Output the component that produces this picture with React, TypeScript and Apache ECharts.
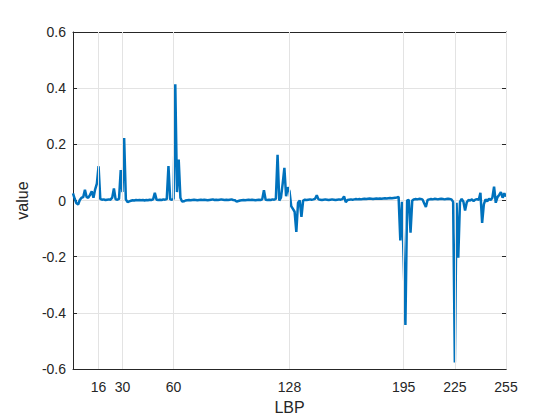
import React, { useEffect, useRef } from "react";
import * as echarts from "echarts";

const xTicks = [16, 30, 60, 128, 195, 225, 255];
const xStart = 1;
const values = [
  0.025, 0.006, -0.010, -0.014, 0.002, 0.010, 0.012, 0.038, 0.012, 0.010,
  0.020, 0.033, 0.010, 0.040, 0.060, 0.122, 0.006, 0.003, 0.004, 0.002,
  0.003, 0.004, 0.003, 0.010, 0.043, 0.004, 0.003, 0.006, 0.108, 0.030,
  0.222, 0.004, -0.006, -0.003, -0.001, 0.001, 0.000, 0.002, 0.001, 0.002,
  0.001, 0.002, 0.000, 0.002, 0.001, 0.003, 0.002, 0.004, 0.027, 0.003,
  0.002, 0.003, 0.002, 0.004, 0.003, 0.005, 0.123, 0.004, 0.003, 0.006,
  0.414, 0.030, 0.146, 0.010, -0.004, -0.003, 0.000, 0.001, 0.002, 0.001,
  0.002, 0.003, 0.002, 0.001, 0.002, 0.003, 0.002, 0.003, 0.002, 0.001,
  0.002, 0.003, 0.004, 0.002, 0.003, 0.002, 0.003, 0.004, 0.003, 0.002,
  0.003, 0.002, 0.003, 0.004, 0.002, 0.001, -0.004, -0.002, 0.000, 0.001,
  0.002, 0.001, 0.002, 0.003, 0.002, 0.003, 0.002, 0.001, 0.002, 0.003,
  0.002, 0.004, 0.037, 0.003, 0.002, 0.003, 0.002, 0.004, 0.003, 0.006,
  0.163, 0.000, 0.010, 0.060, 0.116, 0.015, 0.047, 0.033, -0.020, -0.030,
  -0.040, -0.112, -0.008, 0.000, -0.058, 0.000, 0.003, 0.002, 0.003, 0.004,
  0.003, 0.004, 0.006, 0.019, 0.004, 0.003, 0.002, 0.003, 0.004, 0.003,
  0.002, 0.003, 0.004, 0.003, 0.002, 0.003, 0.004, 0.003, 0.005, 0.015,
  -0.006, 0.002, 0.003, 0.004, 0.003, 0.004, 0.005, 0.004, 0.005, 0.004,
  0.005, 0.006, 0.005, 0.006, 0.007, 0.006, 0.005, 0.006, 0.007, 0.006,
  0.007, 0.006, 0.007, 0.008, 0.007, 0.008, 0.009, 0.008, 0.009, 0.010,
  0.011, 0.013, -0.142, -0.005, -0.220, -0.443, 0.000, 0.002, -0.115, 0.000,
  0.004, 0.005, 0.004, 0.006, 0.005, 0.004, -0.010, -0.023, 0.002, 0.004,
  0.005, 0.004, 0.006, 0.005, 0.004, 0.005, 0.006, 0.005, 0.004, 0.005,
  0.006, 0.005, 0.004, -0.005, -0.577, -0.008, -0.204, -0.005, 0.006, -0.004,
  -0.036, -0.006, 0.002, 0.000, 0.004, -0.002, 0.003, 0.005, 0.002, 0.027,
  -0.080, -0.014, 0.004, -0.003, 0.006, 0.002, 0.010, 0.049, -0.008, 0.012,
  0.020, 0.030, 0.010, 0.026, 0.014,
];

const FONT = "'Liberation Sans', Arial, Helvetica, sans-serif";
const TEXT = "#262626";
const GRIDC = "#e3e3e3";

export default function App() {
  const ref = useRef<HTMLDivElement>(null);
  useEffect(() => {
    if (!ref.current) return;
    const chart = echarts.init(ref.current, null, { renderer: "svg" });
    const pts = values.map((v, i) => [xStart + i, v]);
    const axisLine = { show: true, onZero: false, lineStyle: { color: TEXT, width: 1 } };
    chart.setOption({
      animation: false,
      backgroundColor: "#ffffff",
      grid: { left: 73, right: 54, top: 32, bottom: 50.5 },
      xAxis: [
        {
          type: "value",
          min: 1,
          max: 255,
          position: "bottom",
          name: "LBP",
          nameLocation: "middle",
          nameGap: 30,
          nameTextStyle: { fontFamily: FONT, fontSize: 16, color: TEXT },
          axisLine,
          axisTick: { show: true, inside: true, length: 4, customValues: xTicks, lineStyle: { color: TEXT } },
          axisLabel: { show: true, customValues: xTicks, fontFamily: FONT, fontSize: 14, color: TEXT, margin: 11 },
          splitLine: { show: false },
        },
        {
          type: "value",
          min: 1,
          max: 255,
          position: "top",
          axisLine,
          axisTick: { show: true, inside: true, length: 4, customValues: xTicks, lineStyle: { color: TEXT } },
          axisLabel: { show: false },
          splitLine: { show: false },
        },
      ],
      yAxis: [
        {
          type: "value",
          min: -0.6,
          max: 0.6,
          interval: 0.2,
          position: "left",
          name: "value",
          nameLocation: "middle",
          nameGap: 38,
          nameRotate: 90,
          nameTextStyle: { fontFamily: FONT, fontSize: 16, color: TEXT },
          axisLine,
          axisTick: { show: true, inside: true, length: 4, lineStyle: { color: TEXT } },
          axisLabel: { fontFamily: FONT, fontSize: 14, color: TEXT, margin: 7 },
          splitLine: { show: true, lineStyle: { color: GRIDC, width: 1 } },
        },
        {
          type: "value",
          min: -0.6,
          max: 0.6,
          interval: 0.2,
          position: "right",
          axisLine,
          axisTick: { show: true, inside: true, length: 4, lineStyle: { color: TEXT } },
          axisLabel: { show: false },
          splitLine: { show: false },
        },
      ],
      series: [
        {
          type: "line",
          data: [],
          z: 1,
          silent: true,
          markLine: {
            silent: true,
            symbol: ["none", "none"],
            label: { show: false },
            lineStyle: { color: GRIDC, width: 1, type: "solid" },
            data: xTicks.map((x) => ({ xAxis: x })),
          },
        },
        {
          type: "line",
          data: pts,
          z: 3,
          showSymbol: false,
          symbol: "none",
          lineStyle: { color: "#0072BD", width: 2.5 },
          itemStyle: { color: "#0072BD" },
        },
      ],
    });
    return () => chart.dispose();
  }, []);
  return (
    <div
      ref={ref}
      style={{ position: "fixed", left: 0, top: 0, width: 560, height: 420, background: "#fff" }}
    />
  );
}
